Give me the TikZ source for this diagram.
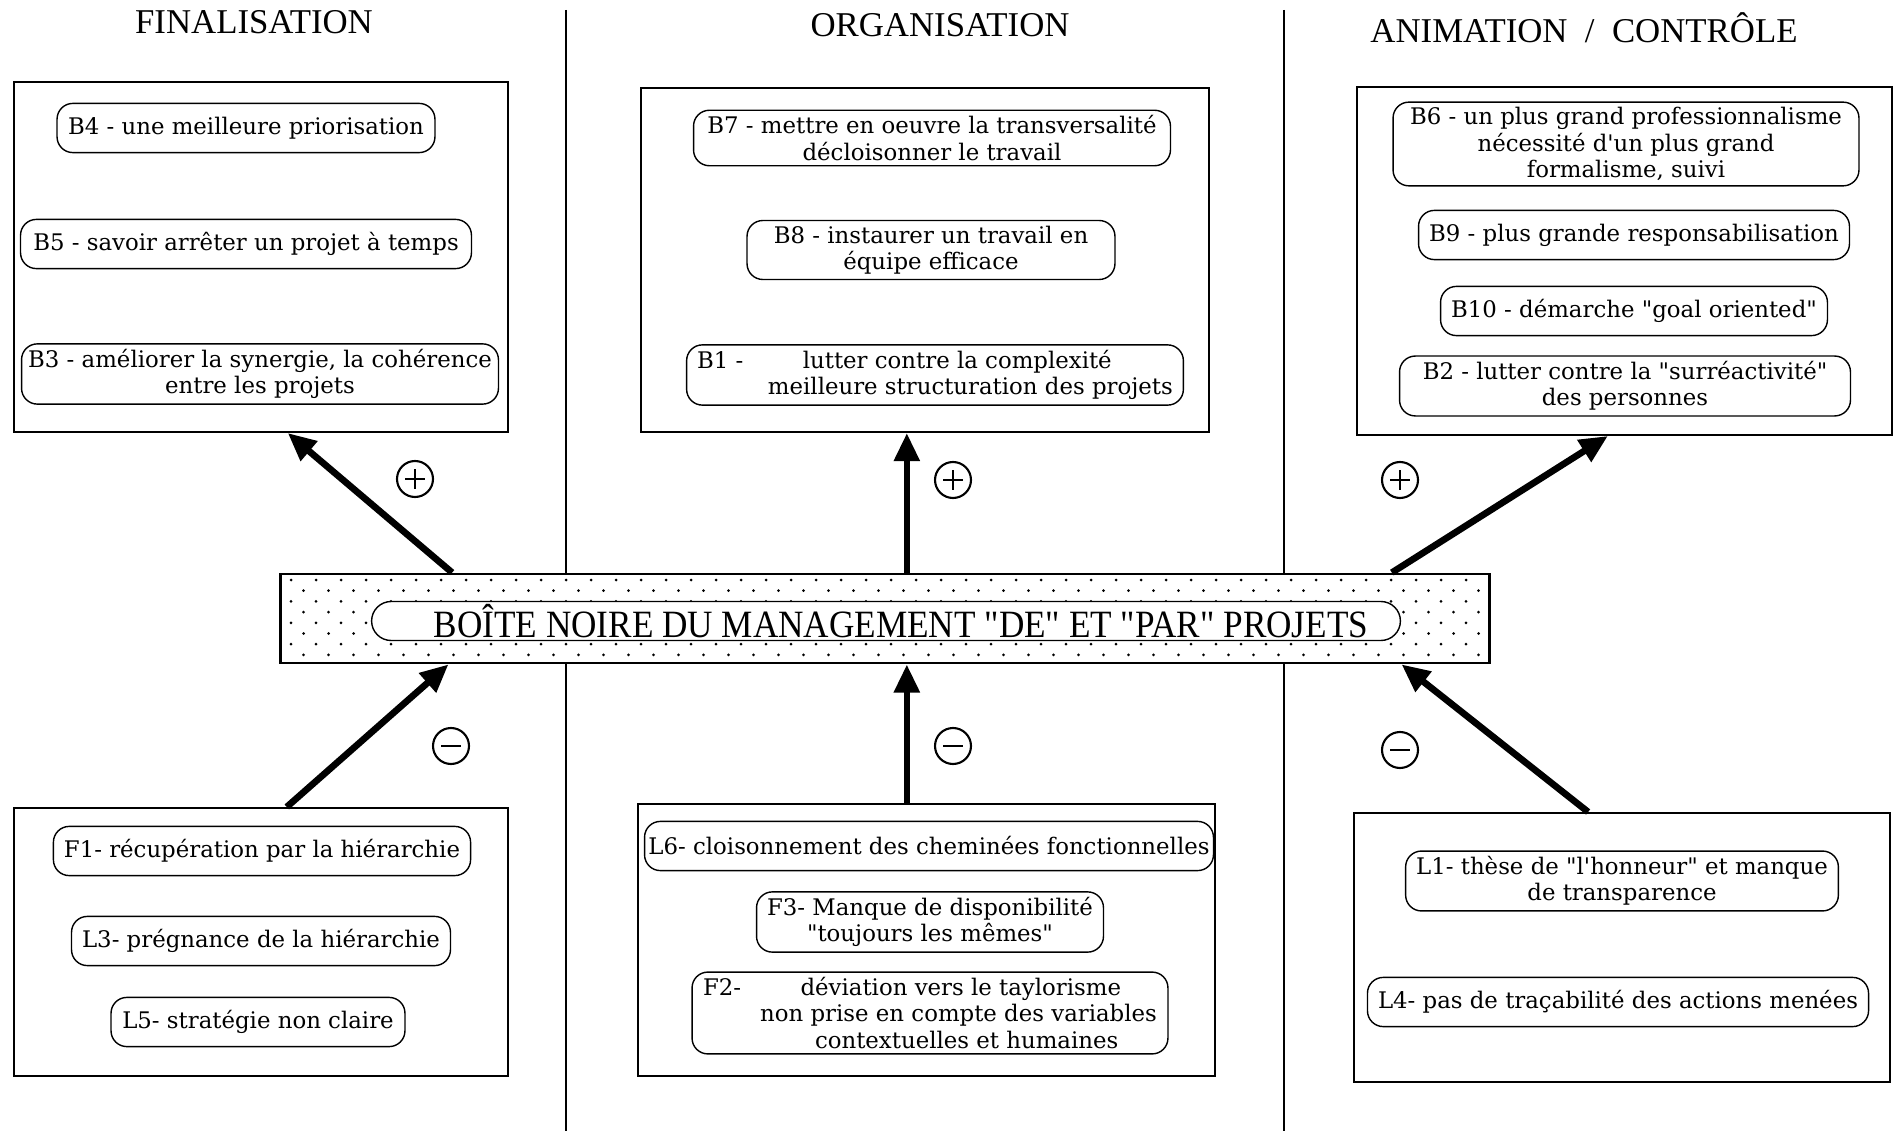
\documentclass[tikz,border=0pt]{standalone}
\usepackage{fontspec}
\setmainfont{DejaVu Serif}[Ligatures=TeXOff]
\newfontfamily\headfont{Liberation Serif}[Ligatures=TeXOff]
\newfontfamily\narrowfont{Liberation Serif}[Ligatures=TeXOff, FakeStretch=0.91]
\usepackage{tikz}
\usetikzlibrary{arrows.meta,calc}
\tikzset{
  cadre/.style={rectangle, draw, line width=1.2pt, fill=white, inner sep=0pt},
  bulle/.style={rectangle, rounded corners=9pt, draw, line width=0.8pt, fill=white,
                align=center, font=\fontsize{13}{15}\selectfont,
                inner xsep=6pt, inner ysep=3pt, minimum height=28pt},
  titre/.style={font=\headfont\fontsize{19.8}{22}\selectfont, inner sep=0pt},
  fleche/.style={line width=3.8pt, -{Triangle[length=16pt,width=14pt]}},
  signe/.style={circle, draw, line width=1.2pt, minimum size=0.72cm, inner sep=0pt},
  signeplus/.style={signe, path picture={
      \draw[line width=1.5pt] ([xshift=-0.2cm]path picture bounding box.center)
        -- ([xshift=0.2cm]path picture bounding box.center);
      \draw[line width=1.5pt] ([yshift=-0.2cm]path picture bounding box.center)
        -- ([yshift=0.2cm]path picture bounding box.center);}},
  signemoins/.style={signe, path picture={
      \draw[line width=1.5pt] ([xshift=-0.2cm]path picture bounding box.center)
        -- ([xshift=0.2cm]path picture bounding box.center);}},
}
\newcommand{\Bulle}[5][]{%
  \node[bulle, minimum width=#4, #1] (#2) at (#3) {#5};}

\begin{document}
\begin{tikzpicture}[x=0.02cm, y=-0.02cm]
  \useasboundingbox (0,0) rectangle (1896,1131);
  % colonnes
  \draw[line width=1.6pt] (566,10) -- (566,1131);
  \draw[line width=1.6pt] (1284,10) -- (1284,1131);
  \node[titre] (tFin) at (254,22) {FINALISATION};
  \node[titre] (tOrg) at (940,25) {ORGANISATION};
  \node[titre] (tAni) at (1584,28) {ANIMATION\ \ /\ \ CONTR\^OLE};

  % boite noire
  \node[cadre, line width=1.6pt, minimum width=24.2cm, minimum height=1.78cm] (bn) at (885,618.5) {};
  \foreach \r in {0,...,7}{
    \foreach \c in {0,...,47}{
      \fill ({291+25*\c+12.5*mod(\r,2)},{580+10.7*\r}) circle (1.5);
    }
  }
  \node[rectangle, rounded corners=0.39cm, draw, line width=0.8pt, fill=white,
        minimum width=20.58cm, minimum height=0.78cm, inner sep=0pt,
        font=\narrowfont\fontsize{22}{24}\selectfont] (bnTxt) at (886,621)
    {\hspace*{0.6cm}BO\^ITE NOIRE DU MANAGEMENT "DE" ET "PAR" PROJETS};

  % effets positifs
  \node[cadre, minimum width=9.87cm, minimum height=7.0cm] (finH) at (261,257) {};
  \node[cadre, minimum width=11.36cm, minimum height=6.88cm] (orgH) at (925,260) {};
  \node[cadre, minimum width=10.7cm, minimum height=6.96cm] (aniH) at (1624.5,261) {};
  \Bulle{b4}{246,128}{7.56cm}{B4 - une meilleure priorisation}
  \Bulle{b5}{246,244}{9.02cm}{B5 - savoir arrêter un projet à temps}
  \Bulle[inner xsep=2pt]{b3}{260,374}{9.54cm}{B3 - améliorer la synergie, la cohérence\\entre les projets}
  \Bulle{b7}{932,138}{9.54cm}{B7 - mettre en oeuvre la transversalité\\décloisonner le travail}
  \Bulle{b8}{931,250}{7.36cm}{B8 - instaurer un travail en\\équipe efficace}
  \Bulle[align=left]{b1}{935,375}{9.68cm}{B1 -\hspace{2.6em}lutter contre la complexité\\\hspace*{3.1em}meilleure structuration des projets}
  \Bulle{b6}{1626,144}{9.32cm}{B6 - un plus grand professionnalisme\\nécessité d'un plus grand\\formalisme, suivi}
  \Bulle{b9}{1634,235}{8.62cm}{B9 - plus grande responsabilisation}
  \Bulle{b10}{1634,311}{7.54cm}{B10 - démarche "goal oriented"}
  \Bulle{b2}{1625,386}{9.02cm}{B2 - lutter contre la "surréactivité"\\des personnes}

  % effets negatifs
  \node[cadre, minimum width=9.87cm, minimum height=5.36cm] (finB) at (261,942) {};
  \node[cadre, minimum width=11.54cm, minimum height=5.44cm] (orgB) at (926.5,940) {};
  \node[cadre, minimum width=10.72cm, minimum height=5.38cm] (aniB) at (1622,947.5) {};
  \Bulle{f1}{262,851}{8.3cm}{F1- récupération par la hiérarchie}
  \Bulle{l3}{261,941}{7.54cm}{L3- prégnance de la hiérarchie}
  \Bulle{l5}{258,1022}{5.88cm}{L5- stratégie non claire}
  \Bulle[inner xsep=2pt]{l6}{929,846}{11.38cm}{L6- cloisonnement des cheminées fonctionnelles}
  \Bulle{f3}{930,922}{6.9cm}{F3- Manque de disponibilité\\"toujours les mêmes"}
  \Bulle[align=left]{f2}{930,1013}{9.52cm}{F2-\hspace{2.6em}déviation vers le taylorisme\\\hspace*{2.5em}non prise en compte des variables\\\hspace*{4.9em}contextuelles et humaines}
  \Bulle{l1}{1622,881}{8.64cm}{L1- thèse de "l'honneur" et manque\\de transparence}
  \Bulle{l4}{1618,1002}{9.76cm}{L4- pas de traçabilité des actions menées}

  % fleches
  \coordinate (mH) at ($(bn.north west)!0.518!(bn.north east)$);
  \coordinate (mB) at ($(bn.south west)!0.518!(bn.south east)$);
  \draw[fleche] ($(bn.north west)!0.143!(bn.north east)$) -- ($(finH.south west)!0.554!(finH.south east)$);
  \draw[fleche] (mH) -- (mH |- orgH.south);
  \draw[fleche] ($(bn.north west)!0.918!(bn.north east)$) -- ($(aniH.south west)!0.469!(aniH.south east)$);
  \draw[fleche] ($(finB.north west)!0.552!(finB.north east)$) -- ($(bn.south west)!0.140!(bn.south east)$);
  \draw[fleche] (mB |- orgB.north) -- (mB);
  \draw[fleche] ($(aniB.north west)!0.437!(aniB.north east)$) -- ($(bn.south west)!0.926!(bn.south east)$);

  \node[signeplus] (pFin) at (415,479) {};
  \node[signeplus] (pOrg) at (953,480) {};
  \node[signeplus] (pAni) at (1400,480) {};
  \node[signemoins] (mFin) at (451,746) {};
  \node[signemoins] (mOrg) at (953,746) {};
  \node[signemoins] (mAni) at (1400,750) {};
\end{tikzpicture}
\end{document}
